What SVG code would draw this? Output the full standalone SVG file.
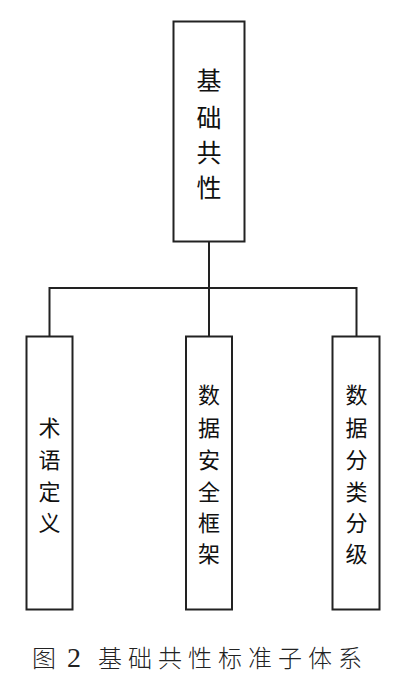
<svg xmlns="http://www.w3.org/2000/svg" width="403" height="698" viewBox="0 0 403 698">
<style>
.box{fill:#fff;stroke:#222;stroke-width:2}
.ln{fill:none;stroke:#222;stroke-width:2}
.t{font-family:"Noto Sans CJK SC","Noto Sans",sans-serif;fill:#111;text-anchor:middle;dominant-baseline:central}
.cap{font-family:"Noto Sans CJK SC","Noto Sans",sans-serif;fill:#222;font-size:24px;font-weight:300}
</style>
<rect width="403" height="698" fill="#fff"/>
<g id="connectors">
<path class="ln" d="M209,242 V288 M49.5,336 V288 H356.5 V336 M209,288 V336"/>
</g>
<g id="node-root">
<rect class="box" x="173.5" y="21.5" width="71" height="220"/>
<text class="t" font-size="25"><tspan x="209" y="79">基</tspan><tspan x="209" y="116">础</tspan><tspan x="209" y="151">共</tspan><tspan x="209" y="186">性</tspan></text>
</g>
<g id="node-terms">
<rect class="box" x="26.5" y="336.5" width="46" height="273"/>
<text class="t" font-size="22"><tspan x="49.5" y="426">术</tspan><tspan x="49.5" y="458">语</tspan><tspan x="49.5" y="490">定</tspan><tspan x="49.5" y="521">义</tspan></text>
</g>
<g id="node-security">
<rect class="box" x="186" y="336.5" width="46" height="273"/>
<text class="t" font-size="22"><tspan x="209" y="393">数</tspan><tspan x="209" y="426">据</tspan><tspan x="209" y="458">安</tspan><tspan x="209" y="490">全</tspan><tspan x="209" y="521">框</tspan><tspan x="209" y="552">架</tspan></text>
</g>
<g id="node-classify">
<rect class="box" x="332.5" y="336.5" width="47" height="273"/>
<text class="t" font-size="22"><tspan x="356.5" y="393">数</tspan><tspan x="356.5" y="426">据</tspan><tspan x="356.5" y="458">分</tspan><tspan x="356.5" y="490">类</tspan><tspan x="356.5" y="521">分</tspan><tspan x="356.5" y="552">级</tspan></text>
</g>
<text class="cap" y="667" letter-spacing="6"><tspan x="32">图</tspan><tspan x="67" font-family="Liberation Serif,serif" font-size="28" font-weight="400">2</tspan><tspan x="98">基础共性标准子体系</tspan></text>
</svg>
